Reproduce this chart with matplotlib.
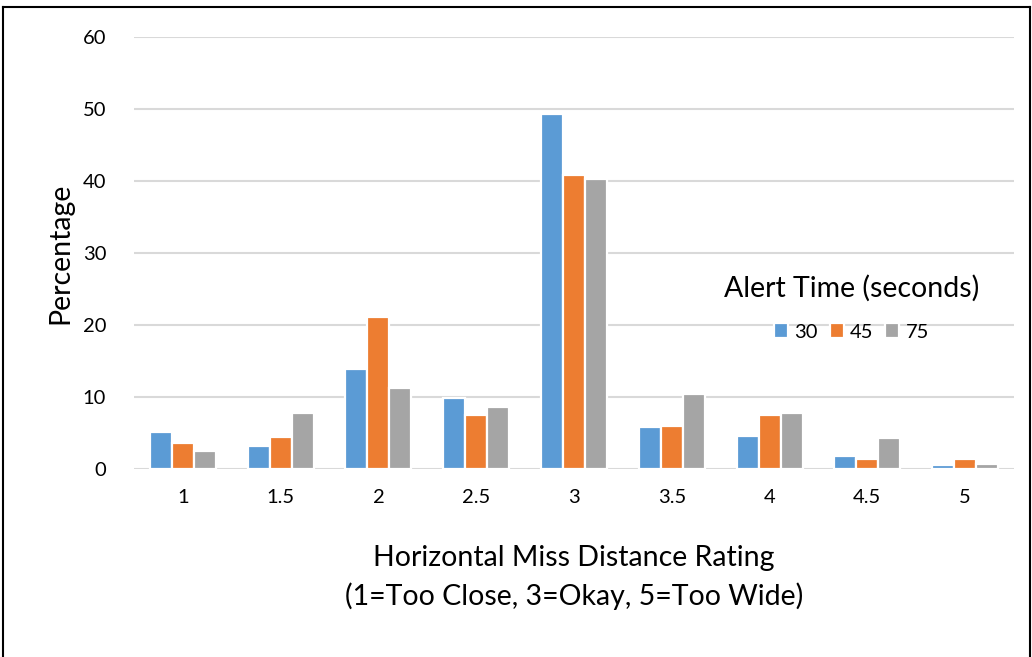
import numpy as np
import matplotlib.pyplot as plt
from matplotlib.lines import Line2D

plt.rcParams['font.family'] = ['Lato', 'DejaVu Sans']

# Ratings and share of responses for each alert time
ratings = ['1', '1.5', '2', '2.5', '3', '3.5', '4', '4.5', '5']
pct_30 = [5.2, 3.25, 13.9, 9.9, 49.3, 5.9, 4.6, 1.9, 0.55]
pct_45 = [3.65, 4.45, 21.1, 7.5, 40.85, 6.0, 7.5, 1.4, 1.4]
pct_75 = [2.55, 7.8, 11.3, 8.7, 40.25, 10.4, 7.8, 4.3, 0.75]
series_names = ['30', '45', '75']
colors = ['#5B9BD5', '#ED7D31', '#A5A5A5']

fig = plt.figure(figsize=(10.32, 6.57), dpi=100)
ax = fig.add_axes([0.1298, 0.2857, 0.8528, 0.658])

x = np.arange(len(ratings))
step = 0.225
for i, (vals, name) in enumerate(zip([pct_30, pct_45, pct_75], series_names)):
    ax.bar(x + (i - 1) * step, vals, width=step, color=colors[i],
           edgecolor='white', linewidth=1.6, label=name, zorder=3)

ax.set_xlim(-0.5, len(ratings) - 0.5)
ax.set_ylim(0, 60)
ax.set_yticks(range(0, 61, 10))
ax.set_xticks(x)
ax.set_xticklabels(ratings)
ax.yaxis.grid(True, color='#d9d9d9', linewidth=1.5, zorder=0)
ax.set_axisbelow(True)
ax.tick_params(length=0, labelsize=14.5, pad=20)
ax.tick_params(axis='x', pad=14)
for s in ax.spines.values():
    s.set_visible(False)

ax.set_ylabel('Percentage', fontsize=20.5, labelpad=7)
ax.set_xlabel('Horizontal Miss Distance Rating\n(1=Too Close, 3=Okay, 5=Too Wide)',
              fontsize=20.5, labelpad=28, linespacing=1.5)

leg = ax.legend(title='Alert Time (seconds)', loc='center',
                bbox_to_anchor=(0.825, 0.532), bbox_transform=fig.transFigure,
                ncol=3, frameon=False, fontsize=14.5, title_fontsize=20.5,
                handlelength=0.7, handleheight=0.7, handletextpad=0.3,
                columnspacing=0.6)
leg._legend_box.sep = 16

# outer frame of the chart area
for xs, ys in [([0.003, 0.003], [0.0, 0.989]), ([0.003, 0.998], [0.989, 0.989]),
               ([0.998, 0.998], [0.0, 0.989])]:
    fig.add_artist(Line2D(xs, ys, color='black', linewidth=1.5))

fig.savefig('out.png', dpi=100)
